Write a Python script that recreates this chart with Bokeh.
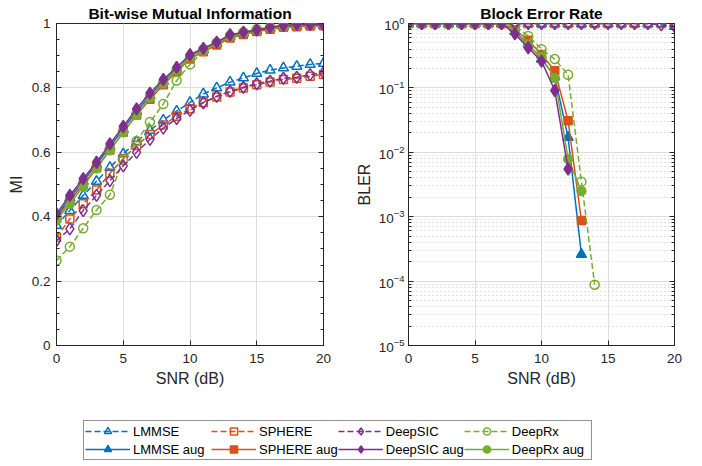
from bokeh.plotting import figure
from bokeh.models import (FixedTicker, PrintfTickFormatter, LinearAxis, LogAxis, CustomJSTickFormatter,
                          Range1d, Legend, LegendItem, LogTicker)
from bokeh.layouts import column, row
from bokeh.embed import file_html
from bokeh.resources import INLINE

FONT = "Liberation Sans"
AX = "#262626"

snr = list(range(21))

# ---- Mutual information (left) ----
mi_lmmse = [0.373, 0.419, 0.466, 0.510, 0.553, 0.595, 0.633, 0.668, 0.700, 0.728, 0.755,
            0.781, 0.800, 0.818, 0.831, 0.845, 0.855, 0.862, 0.867, 0.873, 0.876]
mi_lmmse_aug = [0.400, 0.458, 0.510, 0.562, 0.618, 0.672, 0.727, 0.776, 0.820, 0.858, 0.897,
                0.918, 0.938, 0.960, 0.970, 0.978, 0.985, 0.990, 0.993, 0.994, 0.994]
mi_sphere = [0.336, 0.393, 0.440, 0.483, 0.535, 0.580, 0.621, 0.655, 0.685, 0.712, 0.735,
             0.755, 0.772, 0.787, 0.800, 0.810, 0.818, 0.826, 0.830, 0.836, 0.842]
mi_sphere_aug = [0.395, 0.450, 0.500, 0.552, 0.607, 0.662, 0.716, 0.765, 0.810, 0.850, 0.890,
                 0.912, 0.933, 0.955, 0.966, 0.975, 0.982, 0.988, 0.990, 0.992, 0.993]
mi_deepsic = [0.326, 0.362, 0.419, 0.466, 0.512, 0.558, 0.600, 0.640, 0.675, 0.705, 0.730,
              0.754, 0.774, 0.789, 0.802, 0.813, 0.821, 0.830, 0.833, 0.841, 0.847]
mi_deepsic_aug = [0.409, 0.466, 0.518, 0.569, 0.626, 0.680, 0.735, 0.784, 0.826, 0.864, 0.903,
                  0.923, 0.942, 0.965, 0.973, 0.980, 0.988, 0.994, 0.997, 0.997, 0.996]
mi_deeprx = [0.264, 0.307, 0.364, 0.421, 0.468, 0.575, 0.635, 0.694, 0.750, 0.823, 0.873,
             0.915, 0.940, 0.960, 0.972, 0.980, 0.987, 0.992, 0.995, 0.997, 0.998]
mi_deeprx_aug = [0.390, 0.440, 0.494, 0.550, 0.606, 0.662, 0.718, 0.770, 0.815, 0.856, 0.897,
                 0.920, 0.940, 0.962, 0.973, 0.982, 0.989, 0.994, 0.997, 0.998, 0.999]

# ---- Block error rate (right) ----
bler_lmmse = [1.0] * 20 + [0.9]
bler_lmmse_aug = [1.0, 1.0, 1.0, 1.0, 1.0, 1.0, 1.0, 1.0, 0.75, 0.48, 0.28, 0.15, 0.017, 2.6e-4]
bler_sphere = [1.0] * 21
bler_sphere_aug = [1.0, 1.0, 1.0, 1.0, 1.0, 1.0, 1.0, 1.0, 0.80, 0.55, 0.33, 0.185, 0.031, 8.7e-4]
bler_deepsic = [1.0] * 19 + [0.95, 0.90]
bler_deepsic_aug = [1.0, 1.0, 1.0, 1.0, 1.0, 1.0, 1.0, 1.0, 0.69, 0.42, 0.26, 0.091, 0.0055]
bler_deeprx = [1.0, 1.0, 1.0, 1.0, 1.0, 1.0, 1.0, 1.0, 0.93, 0.64, 0.40, 0.28, 0.16, 0.0035, 8.8e-5]
bler_deeprx_aug = [1.0, 1.0, 1.0, 1.0, 1.0, 1.0, 1.0, 1.0, 0.75, 0.45, 0.30, 0.142, 0.0079, 0.0025]

labels = ["LMMSE", "SPHERE", "DeepSIC", "DeepRx"]
colors = ["#0072BD", "#D95319", "#7E2F8E", "#77AC30"]
markers = ["triangle", "square", "diamond", "circle"]
msizes = [10, 8, 12, 9]

mi_series = [(mi_lmmse, mi_lmmse_aug), (mi_sphere, mi_sphere_aug),
             (mi_deepsic, mi_deepsic_aug), (mi_deeprx, mi_deeprx_aug)]
bler_series = [(bler_lmmse, bler_lmmse_aug), (bler_sphere, bler_sphere_aug),
               (bler_deepsic, bler_deepsic_aug), (bler_deeprx, bler_deeprx_aug)]
draw_order = [0, 1, 3, 2]

BLANK = CustomJSTickFormatter(code="return ''")


def style_axis(ax, standoff=6, label_standoff=4, labels_on=True):
    ax.axis_line_color = AX
    ax.major_tick_line_color = AX
    ax.minor_tick_line_color = AX
    ax.major_tick_in = 5
    ax.major_tick_out = 0
    ax.minor_tick_in = 3
    ax.minor_tick_out = 0
    ax.major_label_text_font = FONT
    ax.major_label_text_color = AX
    ax.major_label_text_font_size = "13.5px"
    ax.axis_label_text_font = FONT
    ax.axis_label_text_font_style = "normal"
    ax.axis_label_text_font_size = "16px"
    ax.axis_label_text_color = AX
    ax.major_label_standoff = standoff if labels_on else 0
    ax.axis_label_standoff = label_standoff
    if not labels_on:
        ax.formatter = BLANK


def base_fig(width, left, right, title, log=False):
    kw = dict(width=width, height=400, x_range=Range1d(0, 20), output_backend="svg",
              toolbar_location=None, min_border_left=left, min_border_right=right,
              min_border_top=23, min_border_bottom=55)
    if log:
        p = figure(y_axis_type="log", y_range=Range1d(1e-5, 1), **kw)
    else:
        p = figure(y_range=Range1d(0, 1), **kw)
    p.title.text = title
    p.title.align = "center"
    p.title.text_font = FONT
    p.title.text_font_size = "15.5px"
    p.title.text_font_style = "bold"
    p.title.text_color = "#000000"
    p.title.standoff = 3
    p.title.offset = 0
    p.outline_line_color = AX
    p.outline_line_alpha = 1.0
    p.background_fill_color = "white"
    p.border_fill_color = "white"
    p.xgrid.grid_line_color = "#dedede"
    p.ygrid.grid_line_color = "#dedede"
    p.xaxis.ticker = FixedTicker(ticks=[0, 5, 10, 15, 20])
    p.xaxis.axis_label = "SNR (dB)"
    style_axis(p.xaxis[0], standoff=8, label_standoff=4)
    return p


# Left figure
p1 = base_fig(352, 56, 29, "Bit-wise Mutual Information")
p1.yaxis.ticker = FixedTicker(ticks=[0, 0.2, 0.4, 0.6, 0.8, 1.0],
                              minor_ticks=[i * 0.05 for i in range(21)])
p1.yaxis.formatter = PrintfTickFormatter(format="%g")
p1.yaxis.axis_label = "MI"
style_axis(p1.yaxis[0], standoff=6, label_standoff=4)
p1.add_layout(LinearAxis(ticker=FixedTicker(ticks=[0, 0.2, 0.4, 0.6, 0.8, 1.0],
                                            minor_ticks=[i * 0.05 for i in range(21)])), "right")
style_axis(p1.right[0], labels_on=False)

# Right figure
p2 = base_fig(346, 55, 24, "Block Error Rate", log=True)
p2.yaxis.ticker = LogTicker(desired_num_ticks=6, num_minor_ticks=10)
p2.yaxis.axis_label = "BLER"
style_axis(p2.yaxis[0], standoff=4, label_standoff=3)
p2.ygrid.minor_grid_line_color = "#c8c8c8"
p2.ygrid.minor_grid_line_dash = "1 3"
p2.add_layout(LogAxis(ticker=LogTicker(desired_num_ticks=6, num_minor_ticks=10)), "right")
style_axis(p2.right[0], labels_on=False)

for i in draw_order:
    c, m, ms = colors[i], markers[i], msizes[i]
    for pp, series in [(p1, mi_series), (p2, bler_series)]:
        base, aug = series[i]
        xs = snr[:len(base)]
        pp.line(xs, base, line_color=c, line_width=1.5, line_dash="6 3")
        pp.scatter(xs, base, marker=m, size=ms, line_color=c, line_width=1.5, fill_alpha=0)
        xa = snr[:len(aug)]
        pp.line(xa, aug, line_color=c, line_width=1.5)
        pp.scatter(xa, aug, marker=m, size=ms, line_color=c, line_width=1.5, fill_color=c)

# Legend figure (its renderers hold the MI data but sit outside its visible range)
p3 = figure(width=698, height=64, x_range=Range1d(100, 101), y_range=Range1d(100, 101),
            output_backend="svg", toolbar_location=None, min_border=0)
p3.axis.visible = False
p3.grid.visible = False
p3.outline_line_color = None
items_top, items_bot = [], []
for i in range(4):
    c, m, ms = colors[i], markers[i], msizes[i]
    base, aug = mi_series[i]
    l1 = p3.line(snr, base, line_color=c, line_width=1.5, line_dash="6 3")
    s1 = p3.scatter(snr, base, marker=m, size=ms, line_color=c, line_width=1.5, fill_alpha=0)
    l2 = p3.line(snr, aug, line_color=c, line_width=1.5)
    s2 = p3.scatter(snr, aug, marker=m, size=ms, line_color=c, line_width=1.5, fill_color=c)
    items_top.append(LegendItem(label=labels[i], renderers=[l1, s1]))
    items_bot.append(LegendItem(label=labels[i] + " aug", renderers=[l2, s2]))

legend = Legend(items=items_top + items_bot, orientation="horizontal", ncols=4,
                location=(83, 4), label_text_font=FONT, label_text_font_size="13px",
                label_text_color="#000000", glyph_width=45, glyph_height=18,
                label_standoff=3, label_width=78, spacing=0, padding=1, margin=0,
                border_line_color=AX, border_line_width=1, background_fill_alpha=1.0)
p3.add_layout(legend, "center")

layout = column(row(p1, p2), p3)
open("out.html", "w").write(file_html(layout, INLINE))
